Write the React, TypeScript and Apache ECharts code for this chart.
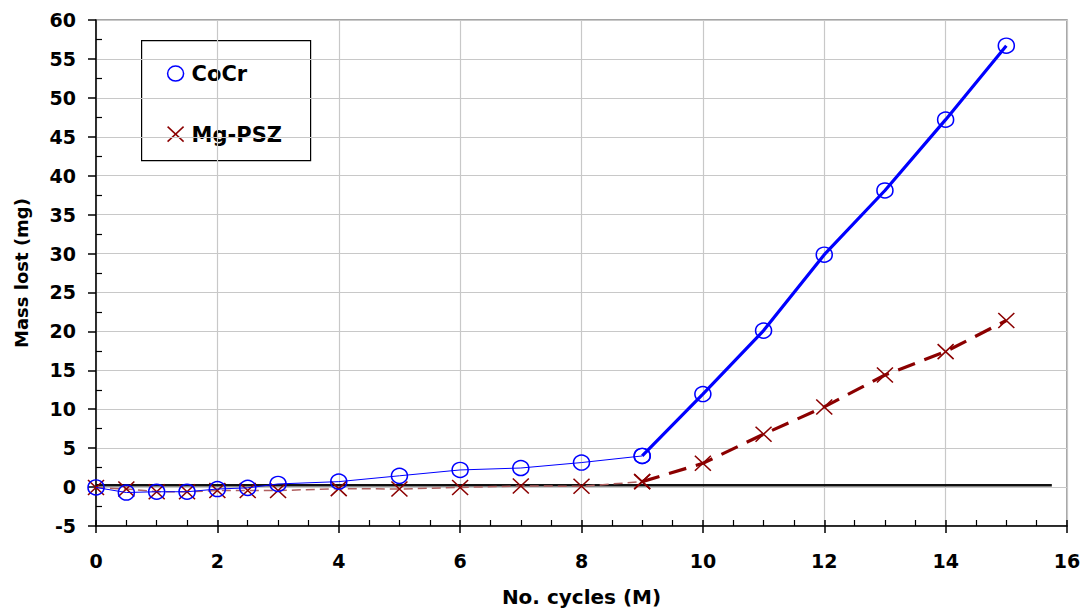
import React, { useEffect, useRef } from "react";
import * as echarts from "echarts";

const cyclesEarly = [0, 0.5, 1, 1.5, 2, 2.5, 3, 4, 5, 6, 7, 8, 9];
const cyclesLate = [9, 10, 11, 12, 13, 14, 15];
const cocrEarly = [-0.05, -0.7, -0.6, -0.6, -0.25, -0.1, 0.4, 0.7, 1.45, 2.2, 2.45, 3.15, 4.0];
const cocrLate = [4.0, 11.95, 20.1, 29.85, 38.1, 47.2, 56.7];
const mgEarly = [-0.05, -0.25, -0.6, -0.6, -0.45, -0.45, -0.45, -0.2, -0.25, -0.05, 0.15, 0.1, 0.7];
const mgLate = [0.7, 3.05, 6.8, 10.3, 14.4, 17.4, 21.4];
const baseline = [[0, 0.25], [15.75, 0.25]];
const legendNames = ["CoCr", "Mg-PSZ"];

const FONT = "DejaVu Sans";
const BLUE = "#0000ff";
const RED = "#8b0000";
const CROSS = "path://M0,0L10,10M10,0L0,10";

const pair = (xs: number[], ys: number[]) => xs.map((x, i) => [x, ys[i]]);

export default function App() {
  const ref = useRef<HTMLDivElement>(null);
  useEffect(() => {
    const chart = echarts.init(ref.current!, null, { renderer: "svg" });
    const labelStyle = { fontFamily: FONT, fontWeight: "bold" as const, fontSize: 19, color: "#000" };
    chart.setOption({
      animation: false,
      backgroundColor: "#fff",
      grid: {
        left: 96, right: 18, top: 20, bottom: 82,
        outerBoundsMode: "none", containLabel: false,
        show: true, borderColor: "#888", borderWidth: 1.5, backgroundColor: "#fff",
      },
      xAxis: [
        {
          type: "value", min: 0, max: 16, interval: 2, position: "bottom",
          name: "No. cycles (M)", nameLocation: "middle", nameGap: 61,
          nameTextStyle: { fontFamily: FONT, fontWeight: "bold", fontSize: 20, color: "#000" },
          axisLine: { show: true, onZero: false, lineStyle: { color: "#000", width: 1.5 } },
          axisTick: { show: true, inside: false, length: 7, lineStyle: { color: "#000", width: 1.5 } },
          axisLabel: { ...labelStyle, margin: 25 },
          splitLine: { show: true, lineStyle: { color: "#c8c8c8", width: 1.2 } },
        },
        {
          type: "value", min: 0, max: 16, interval: 2, position: "bottom",
          axisLine: { show: false, onZero: false },
          axisTick: { show: true, inside: true, length: 6, lineStyle: { color: "#000", width: 1.5 } },
          minorTick: { show: true, splitNumber: 4, length: 6, lineStyle: { color: "#000", width: 1.2 } },
          axisLabel: { show: false },
          splitLine: { show: false },
        },
      ],
      yAxis: [
        {
          type: "value", min: -5, max: 60, interval: 5, position: "left",
          name: "Mass lost (mg)", nameLocation: "middle", nameGap: 66, nameRotate: 90,
          nameTextStyle: { fontFamily: FONT, fontWeight: "bold", fontSize: 18, color: "#000" },
          axisLine: { show: true, onZero: false, lineStyle: { color: "#000", width: 1.5 } },
          axisTick: { show: true, inside: false, length: 8, lineStyle: { color: "#000", width: 1.5 } },
          axisLabel: { ...labelStyle, margin: 20 },
          splitLine: { show: true, lineStyle: { color: "#c8c8c8", width: 1.2 } },
        },
        {
          type: "value", min: -5, max: 60, interval: 5, position: "left",
          axisLine: { show: false, onZero: false },
          axisTick: { show: false, inside: true, length: 6 },
          minorTick: { show: true, splitNumber: 2, length: 6, lineStyle: { color: "#000", width: 1.2 } },
          axisLabel: { show: false },
          splitLine: { show: false },
        },
      ],
      series: [
        {
          type: "line", data: baseline, symbol: "none", silent: true, z: 1,
          lineStyle: { color: "#111", width: 2.5 },
        },
        {
          name: legendNames[1], type: "line", data: pair(cyclesEarly, mgEarly), z: 3,
          symbol: CROSS, symbolSize: [16, 15],
          itemStyle: { color: "rgba(0,0,0,0)", borderColor: RED, borderWidth: 1.5 },
          lineStyle: { color: "#b06060", width: 1.5, type: [9, 5] },
        },
        {
          name: legendNames[1], type: "line", data: pair(cyclesLate, mgLate), z: 3,
          symbol: CROSS, symbolSize: [16, 15],
          itemStyle: { color: "rgba(0,0,0,0)", borderColor: RED, borderWidth: 1.5 },
          lineStyle: { color: RED, width: 3.2, type: [18, 10] },
        },
        {
          name: legendNames[0], type: "line", data: pair(cyclesEarly, cocrEarly), z: 4,
          symbol: "circle", symbolSize: [16, 15],
          itemStyle: { color: "rgba(0,0,0,0)", borderColor: BLUE, borderWidth: 1.5 },
          lineStyle: { color: BLUE, width: 1 },
        },
        {
          name: legendNames[0], type: "line", data: pair(cyclesLate, cocrLate), z: 4,
          symbol: "circle", symbolSize: [16, 15],
          itemStyle: { color: "rgba(0,0,0,0)", borderColor: BLUE, borderWidth: 1.5 },
          lineStyle: { color: BLUE, width: 3.2 },
        },
      ],
      graphic: [
        {
          type: "group", left: 141, top: 40, z: 100,
          children: [
            { type: "rect", shape: { x: 0, y: 0, width: 169, height: 120 },
              style: { fill: "#fff", stroke: "#000", lineWidth: 1.2 } },
            { type: "ellipse", shape: { cx: 34, cy: 33, rx: 8, ry: 7.5 },
              style: { fill: "none", stroke: BLUE, lineWidth: 1.5 } },
            { type: "text", x: 50, y: 33,
              style: { text: legendNames[0], fontFamily: FONT, fontWeight: "bold", fontSize: 21,
                fill: "#000", verticalAlign: "middle", align: "left" } },
            { type: "line", shape: { x1: 26, y1: 86, x2: 42, y2: 101 },
              style: { stroke: RED, lineWidth: 1.5 } },
            { type: "line", shape: { x1: 42, y1: 86, x2: 26, y2: 101 },
              style: { stroke: RED, lineWidth: 1.5 } },
            { type: "text", x: 50, y: 94,
              style: { text: legendNames[1], fontFamily: FONT, fontWeight: "bold", fontSize: 21,
                fill: "#000", verticalAlign: "middle", align: "left" } },
          ],
        },
      ],
    });
    return () => chart.dispose();
  }, []);
  return (
    <div
      ref={ref}
      style={{ position: "fixed", left: 0, top: 0, width: 1085, height: 608 }}
    />
  );
}
